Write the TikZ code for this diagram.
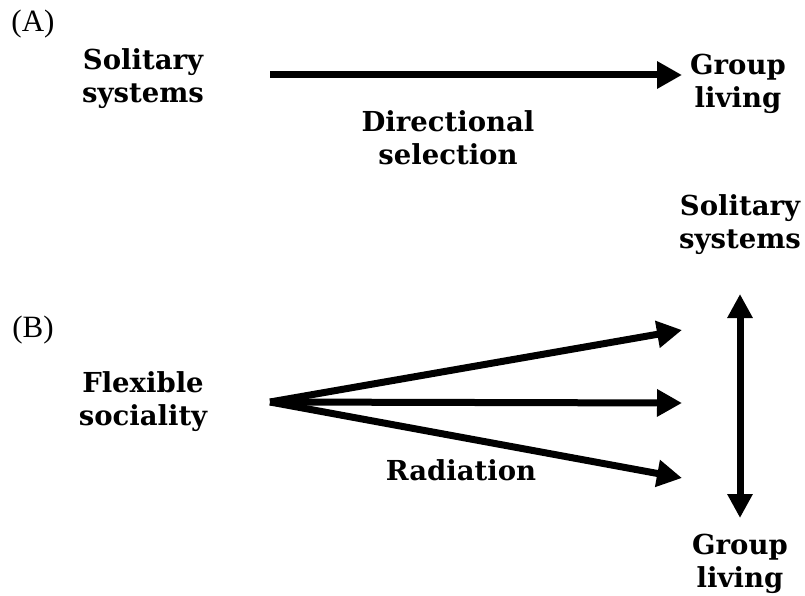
\documentclass[tikz,border=0pt]{standalone}
\usepackage{fontspec}
\setmainfont{Liberation Serif}
\newfontfamily\veraserif{DejaVu Serif}
\usetikzlibrary{arrows.meta}

\begin{document}
\begin{tikzpicture}[
    x=1pt,
    y=-1pt,
    rotulo/.style={font=\veraserif\bfseries\fontsize{27.5}{33}\selectfont, align=center, inner sep=0pt},
    parte/.style={font=\fontsize{31}{34}\selectfont, inner sep=0pt},
    flecha/.style={line width=7pt, -{Triangle[length=25pt, width=26pt]}},
    dobleflecha/.style={line width=7pt, {Triangle[length=24pt, width=24pt]}-{Triangle[length=24pt, width=24pt]}}
]
\useasboundingbox (0,0) rectangle (805,596);

% (A) seleccion direccional
\node[parte] (A) at (33,24) {(A)};
\node[rotulo] (solA) at (143,79) {Solitary\\systems};
\node[rotulo] (grpA) at (738,84) {Group\\living};
\coordinate (iniA) at (270,75);
\coordinate (finA) at (682,75);
\draw[flecha] (iniA) -- (finA);
\node[rotulo] (dir) at (448,138) {Directional\\selection};

% (B) radiacion
\node[parte] (B) at (33,330) {(B)};
\node[rotulo] (flex) at (143,402) {Flexible\\sociality};
\node[rotulo] (solB) at (740,225) {Solitary\\systems};
\node[rotulo] (grpB) at (740,564) {Group\\living};
\coordinate (origen) at (270,402);
\foreach \y [count=\i] in {330,403,478}
{
    \coordinate (punta\i) at (682,\y);
    \draw[flecha, line join=miter] (origen) -- (punta\i);
}
\coordinate (arriba) at (740,294);
\coordinate (abajo) at (740,518);
\draw[dobleflecha] (arriba) -- (abajo);
\node[rotulo] (rad) at (461,470) {Radiation};

\end{tikzpicture}
\end{document}
